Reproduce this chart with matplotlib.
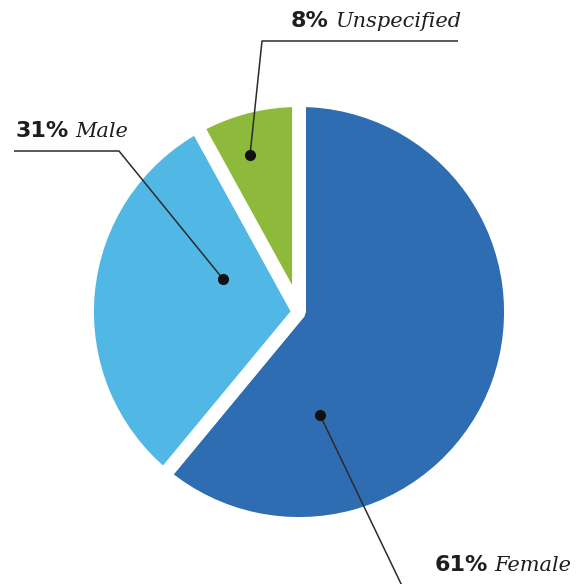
import matplotlib
matplotlib.use("Agg")
import matplotlib.pyplot as plt

# Data
categories = ["Female", "Male", "Unspecified"]
shares = [61, 31, 8]
pct_labels = ["61%", "31%", "8%"]
colors = ["#2f6db3", "#51b7e5", "#8dba3b"]

W, H = 587, 584
fig = plt.figure(figsize=(W / 100, H / 100), dpi=100)
ax = fig.add_axes([0, 0, 1, 1])

# pie in y-down pixel coordinates: counterclock=True with flipped axis appears clockwise
cx, cy, r = 299, 312, 212
wedges, _ = ax.pie(shares, colors=colors, startangle=-90, counterclock=True,
                   center=(cx, cy), radius=r,
                   wedgeprops=dict(edgecolor="white", linewidth=10,
                                   joinstyle="bevel"))
ax.set_xlim(0, W)
ax.set_ylim(H, 0)
ax.set_aspect("equal")
ax.axis("off")

line_kw = dict(color="#2b2b2b", lw=1.1, solid_capstyle="butt")
dot_kw = dict(color="#111111", marker="o", ms=7, ls="none")

# Female leader
ax.plot([320, 404], [415, 590], **line_kw)
ax.plot([320], [415], **dot_kw)
# Male leader
ax.plot([223, 119, 14], [279, 151, 151], **line_kw)
ax.plot([223], [279], **dot_kw)
# Unspecified leader
ax.plot([250, 262, 458], [155, 41, 41], **line_kw)
ax.plot([250], [155], **dot_kw)

bold = dict(family="DejaVu Sans", weight="bold", fontsize=16, color="#1e1e1e")
ital = dict(family="DejaVu Serif", style="italic", fontsize=15, color="#1e1e1e")

labels = [
    (pct_labels[2], categories[2], 329, 335, 27),
    (pct_labels[1], categories[1], 69, 75, 137),
    (pct_labels[0], categories[0], 488, 494, 571),
]
for p, c, xr, xl, yb in labels:
    ax.text(xr, yb, p, ha="right", va="baseline", **bold)
    ax.text(xl, yb, c, ha="left", va="baseline", **ital)

fig.savefig("out.png", dpi=100)
